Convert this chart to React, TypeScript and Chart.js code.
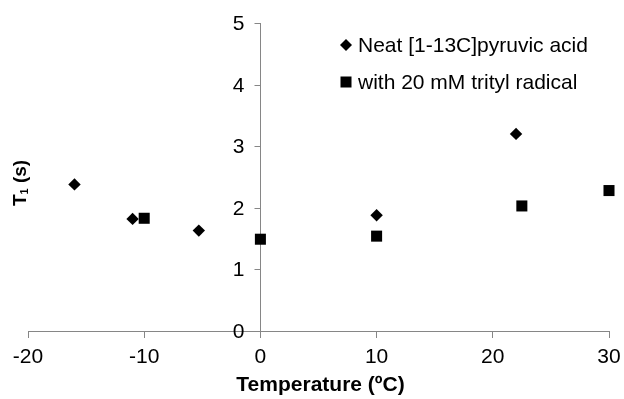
import React, { useEffect, useRef } from "react";
import { Chart, registerables } from "chart.js";

Chart.register(...registerables);

const neatTemps = [-16, -11, -5.3, 10, 22];
const neatT1 = [2.38, 1.82, 1.63, 1.88, 3.2];
const tritylTemps = [-10, 0, 10, 22.5, 30];
const tritylT1 = [1.83, 1.49, 1.54, 2.03, 2.28];

const seriesNames = ["Neat [1-13C]pyruvic acid", "with 20 mM trityl radical"];
const xTitle = "Temperature (ºC)";
const yTitleMain = "T";
const yTitleSub = "1";
const yTitleRest = " (s)";

const FONT = "Arial, 'Liberation Sans', sans-serif";
const AXIS = "#868686";

const overlayPlugin = {
  id: "overlay",
  afterDraw(chart: any) {
    const ctx = chart.ctx;
    const area = chart.chartArea;
    const ys = chart.scales.y;
    const xs = chart.scales.x;
    ctx.save();
    ctx.setTransform(1, 0, 0, 1, 0, 0);
    // y-axis tick marks and labels at x = 0
    const ax = Math.round(xs.getPixelForValue(0)) + 0.5;
    ctx.strokeStyle = AXIS;
    ctx.lineWidth = 1;
    ctx.fillStyle = "#000";
    ctx.font = `21px ${FONT}`;
    ctx.direction = "ltr";
    ctx.textBaseline = "middle";
    ys.ticks.forEach((t: any) => {
      const py = Math.round(ys.getPixelForValue(t.value)) + 0.5;
      ctx.beginPath();
      ctx.moveTo(ax, py);
      ctx.lineTo(ax - 6, py);
      ctx.stroke();
      const label = String(t.value);
      const w = ctx.measureText(label).width;
      ctx.textAlign = "left";
      ctx.fillText(label, ax - 16 - w, py + 1);
    });
    // x title
    ctx.font = `bold 21px ${FONT}`;
    ctx.textAlign = "center";
    ctx.textBaseline = "alphabetic";
    ctx.fillText(xTitle, (area.left + area.right) / 2 + 2, 391);
    // y title rotated
    ctx.save();
    ctx.translate(26, 183);
    ctx.rotate(-Math.PI / 2);
    ctx.textAlign = "left";
    ctx.font = `bold 19px ${FONT}`;
    const wT = ctx.measureText(yTitleMain).width;
    ctx.font = `bold 11px ${FONT}`;
    const wS = ctx.measureText(yTitleSub).width;
    ctx.font = `bold 19px ${FONT}`;
    const wR = ctx.measureText(yTitleRest).width;
    const total = wT + wS + wR;
    let x = -total / 2;
    ctx.fillText(yTitleMain, x, 0);
    x += wT;
    ctx.font = `bold 11px ${FONT}`;
    ctx.fillText(yTitleSub, x, 2);
    x += wS;
    ctx.font = `bold 19px ${FONT}`;
    ctx.fillText(yTitleRest, x, 0);
    ctx.restore();
    // legend
    ctx.font = `21px ${FONT}`;
    ctx.textAlign = "left";
    ctx.textBaseline = "middle";
    const lx = 346;
    const rows = [45, 82];
    ctx.beginPath();
    ctx.moveTo(lx - 6, rows[0]);
    ctx.lineTo(lx, rows[0] - 6);
    ctx.lineTo(lx + 6, rows[0]);
    ctx.lineTo(lx, rows[0] + 6);
    ctx.closePath();
    ctx.fill();
    ctx.fillRect(lx - 5.5, rows[1] - 5.5, 11, 11);
    ctx.fillText(seriesNames[0], 358, rows[0] + 1);
    ctx.fillText(seriesNames[1], 358, rows[1] + 1);
    ctx.restore();
  },
};

export default function App() {
  const ref = useRef<HTMLCanvasElement | null>(null);
  useEffect(() => {
    document.body.style.margin = "0";
    const canvas = ref.current;
    if (!canvas) return;
    const chart = new Chart(canvas, {
      type: "scatter",
      data: {
        datasets: [
          {
            label: seriesNames[0],
            data: neatTemps.map((t, i) => ({ x: t, y: neatT1[i] })),
            pointStyle: "rectRot",
            pointRadius: 6.2,
            backgroundColor: "#000",
            borderColor: "#000",
            borderWidth: 0,
            clip: false,
          },
          {
            label: seriesNames[1],
            data: tritylTemps.map((t, i) => ({ x: t, y: tritylT1[i] })),
            pointStyle: "rect",
            pointRadius: 7.8,
            backgroundColor: "#000",
            borderColor: "#000",
            borderWidth: 0,
            clip: false,
          },
        ],
      },
      options: {
        animation: false,
        responsive: false,
        maintainAspectRatio: false,
        events: [],
        layout: { padding: { left: 28, right: 15, top: 23, bottom: 68 } },
        plugins: { legend: { display: false }, tooltip: { enabled: false } },
        scales: {
          x: {
            type: "linear",
            position: { y: 0 } as any,
            min: -20,
            max: 30,
            afterFit: (s: any) => {
              s.paddingLeft = 0;
              s.paddingRight = 0;
            },
            ticks: { stepSize: 10, color: "#000", font: { size: 21, family: FONT }, padding: 8 },
            grid: { drawOnChartArea: false, drawTicks: true, tickLength: 6, color: AXIS },
            border: { color: AXIS, width: 1 },
          },
          y: {
            type: "linear",
            position: { x: 0 } as any,
            min: 0,
            max: 5,
            afterFit: (s: any) => {
              s.paddingTop = 0;
              s.paddingBottom = 0;
            },
            ticks: { stepSize: 1, display: false },
            grid: { drawOnChartArea: false, drawTicks: false, tickLength: 0, color: AXIS },
            border: { color: AXIS, width: 1 },
          },
        },
      },
      plugins: [overlayPlugin],
    });
    return () => chart.destroy();
  }, []);
  return (
    <div style={{ width: 624, height: 399, background: "#fff" }}>
      <canvas ref={ref} width={624} height={399} style={{ display: "block" }} />
    </div>
  );
}
